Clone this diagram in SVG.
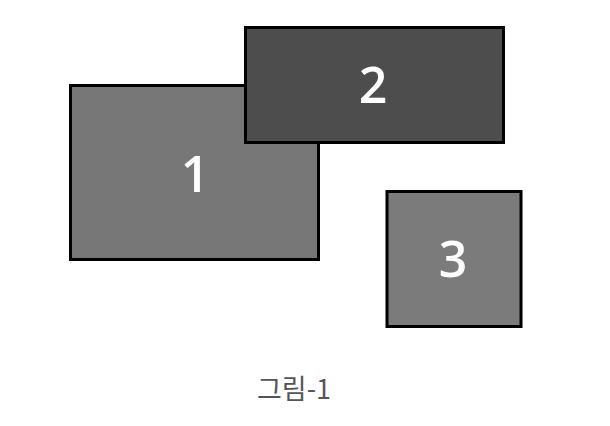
<svg xmlns="http://www.w3.org/2000/svg" width="610" height="426" viewBox="0 0 610 426">
<style>
.box{stroke:#000;stroke-width:3}
.num{font-family:"Open Sans","Liberation Sans",sans-serif;font-size:50px;font-weight:600;fill:#fff;text-anchor:middle}
.cap{font-family:"Noto Sans CJK KR","Noto Sans",sans-serif;font-size:27px;fill:#555;text-anchor:middle}
</style>
<rect width="610" height="426" fill="#fff"/>
<g id="node1">
<rect class="box" x="70.5" y="85.5" width="248" height="174" fill="#777777"/>
<text class="num" x="195" y="192">1</text>
</g>
<g id="node2">
<rect class="box" x="245.5" y="27.5" width="258" height="115" fill="#4d4d4d"/>
<text class="num" x="373" y="103">2</text>
</g>
<g id="node3">
<rect class="box" x="387" y="191.5" width="134" height="135" fill="#7b7b7b"/>
<text class="num" x="453" y="277">3</text>
</g>
<g id="connectors"/>
<text class="cap" x="294" y="399">그림-1</text>
</svg>
